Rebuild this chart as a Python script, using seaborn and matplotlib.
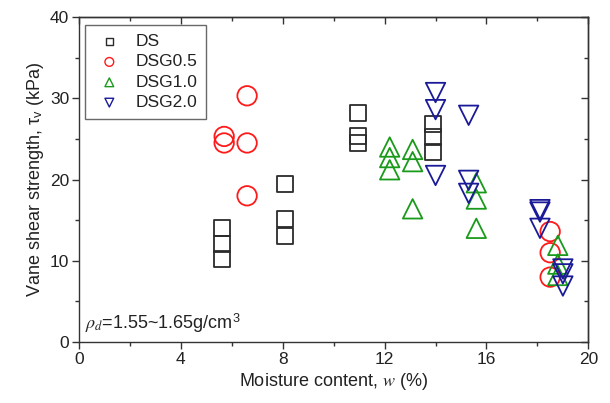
import matplotlib
matplotlib.use("Agg")
import matplotlib.pyplot as plt
import seaborn as sns
import pandas as pd
from matplotlib.ticker import MultipleLocator

# ---- data ----
ds_x = [5.6, 5.6, 5.6, 8.1, 8.1, 8.1, 10.95, 10.95, 10.95, 13.9, 13.9, 13.9]
ds_y = [14.0, 12.1, 10.2, 19.5, 15.1, 13.1, 28.2, 25.3, 24.5, 26.8, 25.2, 23.4]

g05_x = [5.7, 5.7, 6.6, 6.6, 6.6, 18.5, 18.5, 18.5]
g05_y = [25.3, 24.5, 30.3, 24.5, 18.0, 13.6, 11.0, 8.0]

g10_x = [12.2, 12.2, 12.2, 13.1, 13.1, 13.1, 15.6, 15.6, 15.6, 18.8, 18.8, 18.8]
g10_y = [24.0, 22.7, 21.2, 23.7, 22.2, 16.4, 19.6, 17.6, 14.0, 11.9, 9.6, 8.2]

g20_x = [14.0, 14.0, 14.0, 15.3, 15.3, 15.3, 18.1, 18.1, 18.1, 19.0, 19.0, 19.0]
g20_y = [30.7, 28.6, 20.5, 27.9, 19.9, 18.3, 16.3, 16.0, 14.0, 9.0, 8.4, 6.9]

series_names = ["DS", "DSG0.5", "DSG1.0", "DSG2.0"]
x_ticks = [0, 4, 8, 12, 16, 20]
y_ticks = [0, 10, 20, 30, 40]

# ---- style ----
sns.set_theme(style="white")
plt.rcParams['font.family'] = ['Liberation Sans', 'DejaVu Sans']
plt.rcParams['mathtext.fontset'] = 'stix'

series = [
    (ds_x, ds_y, "s", "#2b2b2b", 11.5),
    (g05_x, g05_y, "o", "#ff1a1a", 14.0),
    (g10_x, g10_y, "^", "#1a9a1a", 14.0),
    (g20_x, g20_y, "v", "#1a1a99", 14.0),
]

fig = plt.figure(figsize=(6.10, 4.03), dpi=100)
ax = fig.add_axes([0.1295, 0.151, 0.835, 0.807])

for (xs, ys, m, c, size), name in zip(series, series_names):
    df = pd.DataFrame({"x": xs, "y": ys})
    sns.scatterplot(data=df, x="x", y="y", marker=m, s=size ** 2,
                    facecolors="none", edgecolor=c, linewidth=1.3,
                    label=name, ax=ax, zorder=3)

ax.set_xlim(0, 20)
ax.set_ylim(0, 40)
ax.set_xticks(x_ticks)
ax.set_yticks(y_ticks)
ax.xaxis.set_minor_locator(MultipleLocator(2))
ax.yaxis.set_minor_locator(MultipleLocator(5))
ax.tick_params(axis='both', which='major', direction='out', length=5, width=1,
               color='#333333', labelsize=12.5, labelcolor='#222222', pad=2)
ax.tick_params(axis='both', which='minor', direction='out', length=3, width=1,
               color='#333333')
ax.tick_params(axis='x', which='both', bottom=True)
ax.tick_params(axis='y', which='both', left=True)

# mirrored inward ticks on top and right
secx = ax.secondary_xaxis('top')
secx.set_xticks(x_ticks)
secx.xaxis.set_minor_locator(MultipleLocator(2))
secx.tick_params(which='major', direction='in', length=5, width=1, color='#333333', labeltop=False)
secx.tick_params(which='minor', direction='in', length=3, width=1, color='#333333')
secy = ax.secondary_yaxis('right')
secy.set_yticks(y_ticks)
secy.yaxis.set_minor_locator(MultipleLocator(5))
secy.tick_params(which='major', direction='in', length=5, width=1, color='#333333', labelright=False)
secy.tick_params(which='minor', direction='in', length=3, width=1, color='#333333')
for s in list(ax.spines.values()) + [secx.spines['top'], secy.spines['right']]:
    s.set_color('#333333')
    s.set_linewidth(1.0)

ax.set_xlabel(r'Moisture content, $\mathit{w}$ (%)', fontsize=13, color='#222222', labelpad=3)
ax.set_ylabel(r'Vane shear strength, τ$_\mathregular{v}$ (kPa)', fontsize=13, color='#222222', labelpad=3)

ax.text(0.012, 0.022, r'$\rho_{d}$=1.55~1.65g/cm$^\mathregular{3}$', transform=ax.transAxes,
        fontsize=13, color='#222222', ha='left', va='bottom')

leg = ax.legend(loc='upper left', bbox_to_anchor=(0.005, 0.985), frameon=True, fancybox=False,
                edgecolor='#444444', fontsize=12.5, markerscale=0.45, handletextpad=0.6,
                borderpad=0.5, labelspacing=0.3, handlelength=1.8, borderaxespad=0.2)
leg.get_frame().set_linewidth(1.0)
for h in leg.legend_handles:
    h.set_linewidth(1.0)
for t in leg.get_texts():
    t.set_color('#222222')

fig.savefig("out.png", dpi=100)
